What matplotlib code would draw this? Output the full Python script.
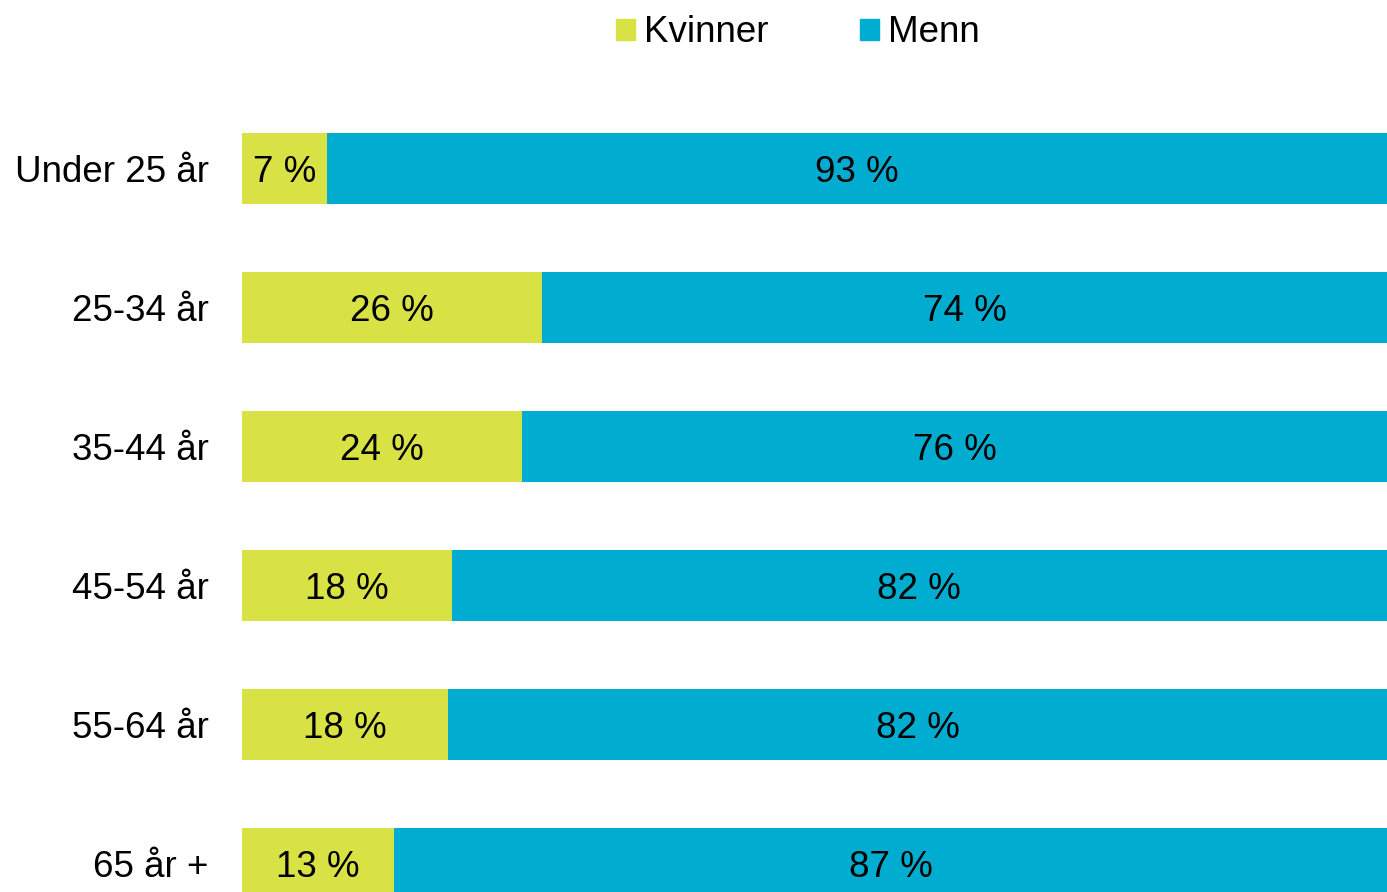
import matplotlib
matplotlib.use("Agg")
import matplotlib.pyplot as plt
from matplotlib.patches import Patch

plt.rcParams['font.family'] = ['Liberation Sans', 'DejaVu Sans']

# data
categories = ["Under 25 år", "25-34 år", "35-44 år", "45-54 år", "55-64 år", "65 år +"]
kvinner = [7.4, 26.2, 24.49, 18.3, 18.0, 13.3]
menn = [100 - v for v in kvinner]

c_kv = "#D9E245"
c_me = "#00ADD0"
fs = 26.5

W, H = 1387, 892
fig = plt.figure(figsize=(W / 100, H / 100), dpi=100)

# axes spans from the top of first bar area down to the bottom edge (last bar is cut)
top_px = 99
ax = fig.add_axes([242 / W, 0, 1145 / W, (H - top_px) / H])

y = list(range(len(categories)))
ax.barh(y, kvinner, height=0.51, color=c_kv, label="Kvinner")
ax.barh(y, menn, left=kvinner, height=0.51, color=c_me, label="Menn")

for i in y:
    ax.text(kvinner[i] / 2, i + 0.03, f"{kvinner[i]:.0f} %", ha="center", va="center", fontsize=fs)
    ax.text(kvinner[i] + menn[i] / 2, i + 0.03, f"{menn[i]:.0f} %", ha="center", va="center", fontsize=fs)

ax.set_xlim(0, 100)
ax.set_ylim((H - 168.5) / 139, -0.5)
ax.set_yticks(y)
ax.set_yticklabels(categories, fontsize=fs)
ax.tick_params(axis="y", length=0, pad=24)
ax.set_xticks([])
for s in ax.spines.values():
    s.set_visible(False)

handles = [Patch(color=c_kv, label="Kvinner"), Patch(color=c_me, label="Menn")]
fig.legend(handles=handles, loc="center", bbox_to_anchor=(798 / W, 1 - 33 / H), ncol=2,
           frameon=False, fontsize=fs, handlelength=0.5, handleheight=0.5,
           handletextpad=0.25, columnspacing=2.5)

fig.savefig("out.png", dpi=100)
